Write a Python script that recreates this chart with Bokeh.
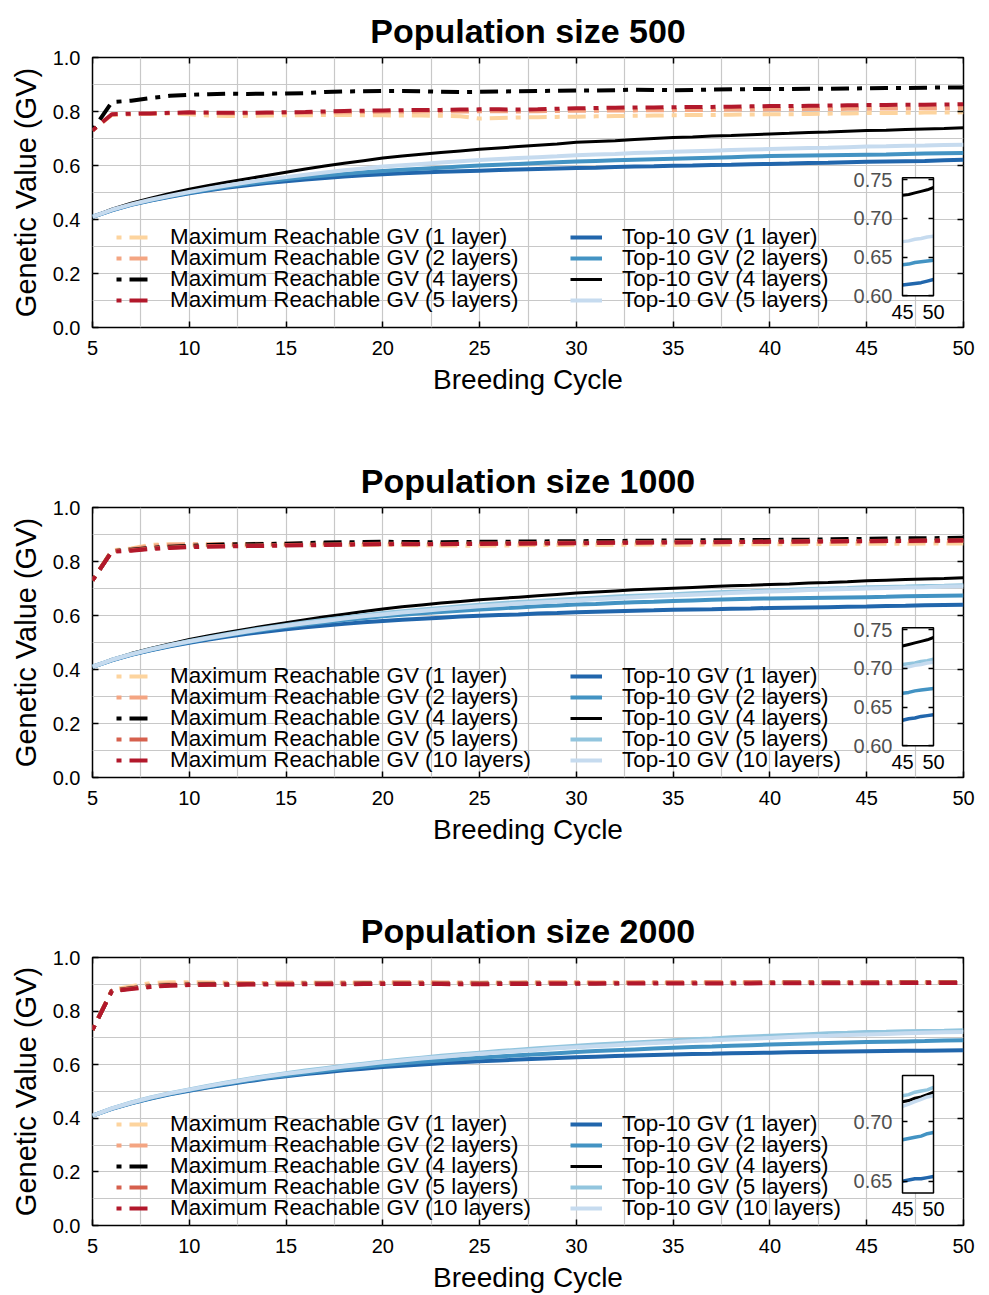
from bokeh.plotting import figure
from bokeh.layouts import column
from bokeh.models import (Range1d, LinearAxis, FixedTicker, SingleIntervalTicker,
                          PrintfTickFormatter, Legend, LegendItem)
from bokeh.embed import file_html
from bokeh.resources import INLINE

# ---------------- data ----------------
cycles = list(range(5, 51))

# Population size 500 : Maximum Reachable GV
max500_l1 = [.730, .788, .790, .792, .793, .790, .785, .783, .784, .785,
             .786, .786, .787, .787, .786, .786, .785, .785, .784, .782,
             .774, .776, .778, .779, .780, .781, .782, .783, .784, .785,
             .786, .787, .787, .788, .789, .790, .790, .791, .792, .793,
             .794, .794, .795, .796, .796, .797]
max500_l2 = [.730, .788, .790, .792, .794, .795, .794, .793, .793, .794,
             .795, .795, .796, .797, .798, .799, .799, .800, .800, .800,
             .801, .801, .800, .801, .802, .803, .803, .804, .804, .805,
             .805, .806, .806, .807, .807, .808, .808, .809, .809, .810,
             .810, .811, .811, .812, .812, .813]
max500_l4 = [.730, .835, .840, .850, .858, .862, .864, .866, .865, .866,
             .867, .868, .872, .874, .875, .876, .876, .875, .873, .872,
             .873, .874, .875, .876, .877, .878, .878, .879, .881, .880,
             .879, .880, .881, .882, .883, .883, .883, .884, .884, .885,
             .886, .887, .887, .888, .889, .889]
max500_l5 = [.730, .790, .792, .793, .795, .797, .796, .795, .795, .796,
             .797, .798, .800, .802, .803, .804, .805, .806, .806, .807,
             .808, .808, .807, .808, .810, .812, .813, .814, .815, .815,
             .816, .817, .817, .818, .819, .820, .820, .821, .822, .823,
             .824, .824, .825, .825, .826, .827]
# Population size 500 : Top-10 GV
top500_l1 = [.410, .434, .454, .470, .484, .497, .508, .518, .527, .535,
             .542, .548, .554, .559, .564, .568, .571, .574, .577, .579,
             .581, .583, .585, .587, .589, .591, .592, .594, .596, .597,
             .599, .600, .602, .603, .605, .606, .607, .609, .610, .612,
             .614, .615, .616, .617, .619, .621]
top500_l2 = [.410, .435, .455, .471, .486, .499, .511, .522, .532, .541,
             .549, .556, .563, .569, .575, .580, .584, .588, .592, .596,
             .600, .603, .606, .609, .612, .615, .617, .619, .621, .623,
             .625, .627, .629, .631, .633, .635, .636, .637, .638, .639,
             .640, .641, .643, .644, .645, .646]
top500_l4 = [.410, .438, .460, .479, .496, .512, .526, .539, .551, .563,
             .575, .587, .598, .608, .618, .628, .635, .642, .648, .654,
             .660, .665, .670, .675, .680, .686, .689, .692, .696, .700,
             .704, .706, .709, .711, .714, .717, .719, .722, .724, .727,
             .730, .731, .733, .735, .737, .740]
top500_l5 = [.410, .436, .456, .473, .488, .502, .515, .527, .538, .548,
             .557, .566, .574, .582, .589, .596, .601, .606, .611, .616,
             .620, .624, .628, .631, .634, .638, .641, .643, .646, .648,
             .651, .653, .655, .657, .659, .661, .663, .665, .666, .668,
             .670, .671, .673, .674, .676, .677]

# Population size 1000 : Maximum Reachable GV
max1000_l1 = [.730, .842, .848, .862, .864, .862, .862, .861, .860, .861,
              .862, .862, .863, .862, .861, .862, .861, .860, .859, .859,
              .858, .859, .860, .861, .861, .862, .862, .862, .863, .863,
              .862, .862, .863, .863, .864, .864, .864, .865, .865, .865,
              .866, .866, .866, .867, .867, .867]
max1000_l2 = [.730, .840, .846, .858, .862, .864, .864, .865, .865, .866,
              .866, .867, .867, .868, .867, .867, .866, .866, .866, .866,
              .866, .867, .867, .868, .868, .869, .869, .869, .870, .870,
              .870, .870, .871, .871, .872, .872, .872, .873, .873, .873,
              .874, .874, .874, .875, .875, .876]
max1000_l4 = [.730, .838, .844, .850, .855, .858, .861, .863, .864, .865,
              .866, .868, .870, .871, .872, .873, .872, .872, .871, .872,
              .873, .873, .874, .874, .875, .875, .876, .876, .877, .877,
              .878, .878, .879, .879, .880, .880, .881, .881, .882, .883,
              .884, .885, .886, .886, .887, .888]
max1000_l5 = [.730, .838, .842, .848, .852, .855, .857, .858, .859, .860,
              .861, .862, .863, .864, .865, .866, .866, .865, .865, .866,
              .867, .867, .868, .868, .869, .869, .870, .870, .871, .871,
              .872, .872, .872, .873, .873, .874, .874, .875, .875, .876,
              .876, .877, .877, .878, .878, .879]
max1000_l10 = [.730, .836, .840, .846, .850, .853, .855, .856, .857, .858,
               .859, .860, .861, .862, .863, .864, .864, .864, .864, .865,
               .865, .866, .866, .867, .867, .868, .868, .869, .869, .870,
               .870, .871, .871, .872, .872, .873, .873, .874, .874, .875,
               .875, .876, .876, .877, .877, .878]
# Population size 1000 : Top-10 GV
top1000_l1 = [.410, .434, .454, .471, .486, .499, .511, .522, .532, .541,
              .549, .556, .563, .569, .575, .580, .584, .588, .592, .596,
              .599, .602, .604, .607, .609, .612, .614, .616, .618, .619,
              .621, .622, .623, .625, .626, .628, .629, .630, .631, .632,
              .633, .635, .636, .638, .639, .640]
top1000_l2 = [.410, .435, .455, .472, .488, .502, .515, .527, .538, .548,
              .558, .567, .575, .583, .590, .597, .603, .608, .613, .618,
              .622, .626, .630, .634, .637, .641, .643, .646, .649, .651,
              .654, .656, .658, .660, .662, .663, .664, .665, .666, .667,
              .668, .669, .671, .672, .673, .674]
top1000_l4 = [.410, .437, .459, .478, .495, .511, .525, .538, .550, .562,
              .573, .584, .595, .605, .615, .624, .632, .639, .646, .652,
              .658, .663, .668, .673, .678, .683, .687, .691, .695, .698,
              .701, .704, .707, .710, .712, .715, .717, .720, .722, .725,
              .729, .731, .733, .735, .737, .740]
top1000_l5 = [.410, .436, .457, .475, .491, .506, .519, .532, .544, .555,
              .565, .575, .584, .593, .601, .609, .616, .622, .628, .634,
              .640, .645, .650, .654, .658, .662, .666, .670, .673, .676,
              .679, .682, .685, .688, .690, .693, .695, .698, .700, .702,
              .705, .706, .707, .709, .710, .712]
top1000_l10 = [.410, .436, .456, .474, .490, .504, .517, .529, .541, .552,
               .562, .571, .580, .589, .597, .604, .611, .617, .623, .629,
               .634, .639, .644, .648, .652, .656, .660, .664, .668, .671,
               .674, .677, .680, .683, .686, .689, .691, .694, .696, .698,
               .700, .702, .704, .705, .707, .708]

# Population size 2000 : Maximum Reachable GV
max2000_l1 = [.730, .880, .893, .905, .908, .908, .907, .906, .905, .905,
              .906, .906, .905, .905, .904, .905, .906, .906, .905, .905,
              .904, .904, .905, .905, .906, .905, .905, .906, .906, .905,
              .905, .906, .906, .905, .906, .906, .906, .907, .906, .906,
              .907, .907, .906, .906, .907, .907]
max2000_l2 = [.730, .878, .888, .898, .902, .903, .904, .904, .905, .905,
              .906, .906, .906, .907, .907, .907, .908, .908, .907, .907,
              .906, .907, .907, .908, .908, .908, .907, .907, .908, .908,
              .908, .908, .909, .909, .908, .908, .909, .909, .909, .908,
              .908, .909, .909, .909, .909, .909]
max2000_l4 = [.730, .876, .885, .893, .897, .899, .900, .900, .901, .901,
              .901, .902, .902, .902, .903, .903, .903, .903, .902, .902,
              .902, .903, .903, .903, .904, .904, .904, .904, .905, .905,
              .905, .905, .905, .905, .905, .906, .906, .906, .906, .906,
              .906, .906, .907, .907, .907, .907]
max2000_l5 = [.730, .876, .884, .892, .896, .898, .899, .900, .900, .901,
              .902, .902, .903, .903, .903, .904, .904, .904, .903, .903,
              .902, .903, .904, .904, .905, .905, .905, .905, .905, .906,
              .906, .906, .906, .906, .907, .907, .907, .907, .907, .907,
              .908, .908, .908, .908, .908, .908]
max2000_l10 = [.730, .874, .882, .890, .895, .897, .898, .898, .899, .899,
               .899, .900, .900, .900, .901, .901, .901, .901, .901, .900,
               .900, .901, .901, .901, .902, .902, .902, .903, .903, .903,
               .903, .903, .903, .903, .903, .904, .904, .904, .904, .904,
               .904, .904, .905, .905, .905, .905]
# Population size 2000 : Top-10 GV
top2000_l1 = [.410, .435, .456, .474, .490, .503, .516, .527, .538, .548,
              .557, .565, .572, .579, .585, .591, .596, .601, .605, .609,
              .613, .616, .619, .622, .625, .628, .630, .632, .634, .636,
              .638, .640, .641, .643, .644, .645, .646, .647, .648, .649,
              .650, .651, .652, .652, .653, .654]
top2000_l2 = [.410, .436, .457, .475, .491, .505, .518, .530, .541, .551,
              .560, .569, .577, .585, .592, .599, .605, .611, .616, .621,
              .626, .631, .635, .639, .643, .647, .651, .654, .657, .660,
              .663, .666, .668, .671, .673, .675, .677, .679, .681, .683,
              .685, .686, .687, .688, .690, .691]
top2000_l4 = [.410, .437, .458, .477, .493, .507, .521, .534, .546, .557,
              .567, .576, .585, .594, .602, .610, .617, .624, .630, .636,
              .642, .647, .652, .657, .662, .666, .670, .674, .678, .682,
              .686, .689, .692, .695, .698, .701, .704, .707, .710, .713,
              .717, .718, .720, .721, .723, .725]
top2000_l5 = [.410, .437, .459, .478, .494, .508, .522, .535, .547, .558,
              .568, .578, .587, .596, .604, .612, .619, .626, .633, .639,
              .645, .651, .656, .661, .666, .671, .675, .679, .683, .687,
              .691, .695, .698, .702, .705, .708, .711, .714, .717, .719,
              .722, .723, .725, .726, .727, .729]
top2000_l10 = [.410, .437, .458, .477, .493, .507, .520, .533, .545, .556,
               .566, .575, .584, .593, .601, .609, .616, .623, .629, .635,
               .641, .646, .651, .656, .661, .665, .669, .673, .677, .681,
               .684, .688, .691, .694, .697, .700, .703, .706, .708, .711,
               .713, .715, .717, .719, .721, .722]

# labels
max_labels_4 = ["Maximum Reachable GV (1 layer)", "Maximum Reachable GV (2 layers)",
                "Maximum Reachable GV (4 layers)", "Maximum Reachable GV (5 layers)"]
top_labels_4 = ["Top-10 GV (1 layer)", "Top-10 GV (2 layers)",
                "Top-10 GV (4 layers)", "Top-10 GV (5 layers)"]
max_labels_5 = max_labels_4 + ["Maximum Reachable GV (10 layers)"]
top_labels_5 = top_labels_4 + ["Top-10 GV (10 layers)"]

# colours
max_colors_4 = ["#fdd49e", "#f4a582", "#000000", "#b2182b"]
top_colors_4 = ["#2166ac", "#4393c3", "#000000", "#c6dbef"]
max_colors_5 = ["#fdd49e", "#f4a582", "#000000", "#d6604d", "#b2182b"]
top_colors_5 = ["#2166ac", "#4393c3", "#000000", "#92c5de", "#c6dbef"]

# inset axes
inset_x = [45, 50]
inset_y_a = [0.60, 0.7525]
inset_ticks_a = [0.60, 0.65, 0.70, 0.75]
inset_y_b = [0.64, 0.739]
inset_ticks_b = [0.65, 0.70]

for _n in ["max500_l1", "max500_l2", "max500_l4", "max500_l5", "top500_l1", "top500_l2",
           "top500_l4", "top500_l5", "max1000_l1", "max1000_l2", "max1000_l4", "max1000_l5",
           "max1000_l10", "top1000_l1", "top1000_l2", "top1000_l4", "top1000_l5", "top1000_l10",
           "max2000_l1", "max2000_l2", "max2000_l4", "max2000_l5", "max2000_l10", "top2000_l1",
           "top2000_l2", "top2000_l4", "top2000_l5", "top2000_l10"]:
    if len(globals()[_n]) != len(cycles):
        raise ValueError(_n + " has %d values" % len(globals()[_n]))

# ---------------- layout ----------------
FONT = "Liberation Sans"
W = 989
FW, FH = 871, 270
LEFT, RIGHT, TOP = 92, 26, 57
ROW_PITCH = 21
ITEM_HALF = 14


def tick_style(ax, tick_len=6):
    ax.axis_line_color = None
    ax.major_tick_in = tick_len
    ax.major_tick_out = 0
    ax.major_tick_line_color = "black"
    ax.major_tick_line_width = 1.5
    ax.minor_tick_line_color = None


def mirror_axis(ticker, loc, x_name="default", y_name="default", bounds="auto", tick_len=6):
    ax = LinearAxis(ticker=ticker, fixed_location=loc, x_range_name=x_name,
                    y_range_name=y_name, bounds=bounds)
    tick_style(ax, tick_len)
    ax.major_label_text_color = None
    ax.major_label_standoff = 0
    return ax


def add_legend_rows(p, items, x, bottom_center, standoff):
    n = len(items)
    for k, item in enumerate(items):
        center = bottom_center + ROW_PITCH * (n - 1 - k)
        leg = Legend(items=[item], location=(x, center - ITEM_HALF), label_standoff=standoff,
                     label_text_font=FONT, label_text_font_size="22.4px",
                     label_text_color="black", glyph_width=32, glyph_height=18,
                     spacing=0, padding=0, margin=0,
                     background_fill_alpha=0, border_line_alpha=0)
        p.add_layout(leg, "center")


def make_panel(title, max_series, max_colors, max_labels, top_series, top_colors, top_labels,
               inset_y, inset_ticks, inset_px, height, legend_bottom):
    p = figure(width=W, height=height, x_range=Range1d(5, 50), y_range=Range1d(0, 1),
               output_backend="svg", toolbar_location=None,
               min_border_left=LEFT, min_border_right=RIGHT, min_border_top=TOP,
               min_border_bottom=height - TOP - FH)
    p.background_fill_color = "white"
    p.border_fill_color = "white"
    p.outline_line_color = "black"
    p.outline_line_width = 1.5

    p.title.text = title
    p.title.text_font = FONT
    p.title.text_font_size = "34px"
    p.title.text_font_style = "bold"
    p.title.text_color = "black"
    p.title.align = "center"
    p.title.standoff = 16

    xa = p.xaxis[0]
    ya = p.yaxis[0]
    xa.ticker = SingleIntervalTicker(interval=5, num_minor_ticks=0)
    ya.ticker = SingleIntervalTicker(interval=0.2, num_minor_ticks=0)
    ya.formatter = PrintfTickFormatter(format="%.1f")
    xa.axis_label = "Breeding Cycle"
    ya.axis_label = "Genetic Value (GV)"
    for ax in (xa, ya):
        tick_style(ax)
        ax.major_label_text_font = FONT
        ax.major_label_text_font_size = "20px"
        ax.major_label_text_color = "black"
        ax.axis_label_text_font = FONT
        ax.axis_label_text_font_style = "normal"
        ax.axis_label_text_color = "black"
    xa.axis_label_text_font_size = "28px"
    ya.axis_label_text_font_size = "29px"
    xa.major_label_standoff = 13
    xa.axis_label_standoff = 6
    ya.major_label_standoff = 12
    ya.axis_label_standoff = 8

    # mirrored ticks on the top and right edges of the frame
    p.add_layout(mirror_axis(SingleIntervalTicker(interval=5, num_minor_ticks=0), 1.0), "above")
    p.add_layout(mirror_axis(SingleIntervalTicker(interval=0.2, num_minor_ticks=0), 50), "right")

    p.xgrid.ticker = SingleIntervalTicker(interval=2.5, num_minor_ticks=0)
    p.ygrid.ticker = SingleIntervalTicker(interval=0.1, num_minor_ticks=0)
    p.grid.grid_line_color = "#c8c8c8"
    p.grid.grid_line_width = 1.2

    max_items = []
    for ys, c, lab in zip(max_series, max_colors, max_labels):
        r = p.line(cycles, ys, line_color=c, line_width=4, line_dash="5 8 18 8")
        max_items.append(LegendItem(label=lab, renderers=[r]))
    top_items = []
    for ys, c, lab in zip(top_series, top_colors, top_labels):
        r = p.line(cycles, ys, line_color=c, line_width=3 if c == "#000000" else 4)
        top_items.append(LegendItem(label=lab, renderers=[r]))

    # inset: extra ranges chosen so that the inset box sits at the given frame pixels
    pl, pr, pt, pb = inset_px
    sx = (inset_x[1] - inset_x[0]) / (pr - pl)
    sy = (inset_y[1] - inset_y[0]) / (pb - pt)
    p.extra_x_ranges = {"ix": Range1d(inset_x[0] - pl * sx, inset_x[1] + (FW - pr) * sx)}
    p.extra_y_ranges = {"iy": Range1d(inset_y[0] - (FH - pb) * sy, inset_y[1] + pt * sy)}
    p.quad(left=[inset_x[0]], right=[inset_x[1]], bottom=[inset_y[0]], top=[inset_y[1]],
           x_range_name="ix", y_range_name="iy", fill_color="white", line_color=None)
    n0 = cycles.index(inset_x[0])
    for ys, c in zip(top_series, top_colors):
        p.line(cycles[n0:], ys[n0:], x_range_name="ix", y_range_name="iy",
               line_color=c, line_width=3 if c == "#000000" else 3.5)
    p.quad(left=[inset_x[0]], right=[inset_x[1]], bottom=[inset_y[0]], top=[inset_y[1]],
           x_range_name="ix", y_range_name="iy", fill_color=None, line_color="black",
           line_width=1.5)

    ia_l = LinearAxis(x_range_name="ix", y_range_name="iy", fixed_location=inset_x[0],
                      bounds=(inset_y[0], inset_y[1]), ticker=FixedTicker(ticks=inset_ticks),
                      formatter=PrintfTickFormatter(format="%.2f"))
    tick_style(ia_l, 5)
    ia_l.major_label_text_font = FONT
    ia_l.major_label_text_font_size = "20px"
    ia_l.major_label_text_color = "#505050"
    ia_l.major_label_standoff = 10
    p.add_layout(ia_l, "left")

    p.add_layout(mirror_axis(FixedTicker(ticks=inset_ticks), inset_x[1], "ix", "iy",
                             (inset_y[0], inset_y[1]), 5), "right")

    ia_b = LinearAxis(x_range_name="ix", y_range_name="iy", fixed_location=inset_y[0],
                      bounds=(inset_x[0], inset_x[1]), ticker=FixedTicker(ticks=inset_x))
    tick_style(ia_b, 0)
    ia_b.major_label_text_font = FONT
    ia_b.major_label_text_font_size = "20px"
    ia_b.major_label_text_color = "black"
    ia_b.major_label_standoff = 9
    p.add_layout(ia_b, "below")

    add_legend_rows(p, max_items, 24, legend_bottom, 22)
    add_legend_rows(p, top_items, 478, legend_bottom, 20)
    return p


p1 = make_panel("Population size 500",
                [max500_l1, max500_l2, max500_l4, max500_l5], max_colors_4, max_labels_4,
                [top500_l1, top500_l2, top500_l4, top500_l5], top_colors_4, top_labels_4,
                inset_y_a, inset_ticks_a, (810, 841, 120.3, 238.3), 450, 28)
p2 = make_panel("Population size 1000",
                [max1000_l1, max1000_l2, max1000_l4, max1000_l5, max1000_l10], max_colors_5,
                max_labels_5,
                [top1000_l1, top1000_l2, top1000_l4, top1000_l5, top1000_l10], top_colors_5,
                top_labels_5,
                inset_y_a, inset_ticks_a, (810, 841, 120.3, 238.3), 450, 18)
p3 = make_panel("Population size 2000",
                [max2000_l1, max2000_l2, max2000_l4, max2000_l5, max2000_l10], max_colors_5,
                max_labels_5,
                [top2000_l1, top2000_l2, top2000_l4, top2000_l5, top2000_l10], top_colors_5,
                top_labels_5,
                inset_y_b, inset_ticks_b, (810, 841, 119, 237.3), 395, 18)

layout = column(p1, p2, p3)
open("out.html", "w").write(file_html(layout, INLINE))
